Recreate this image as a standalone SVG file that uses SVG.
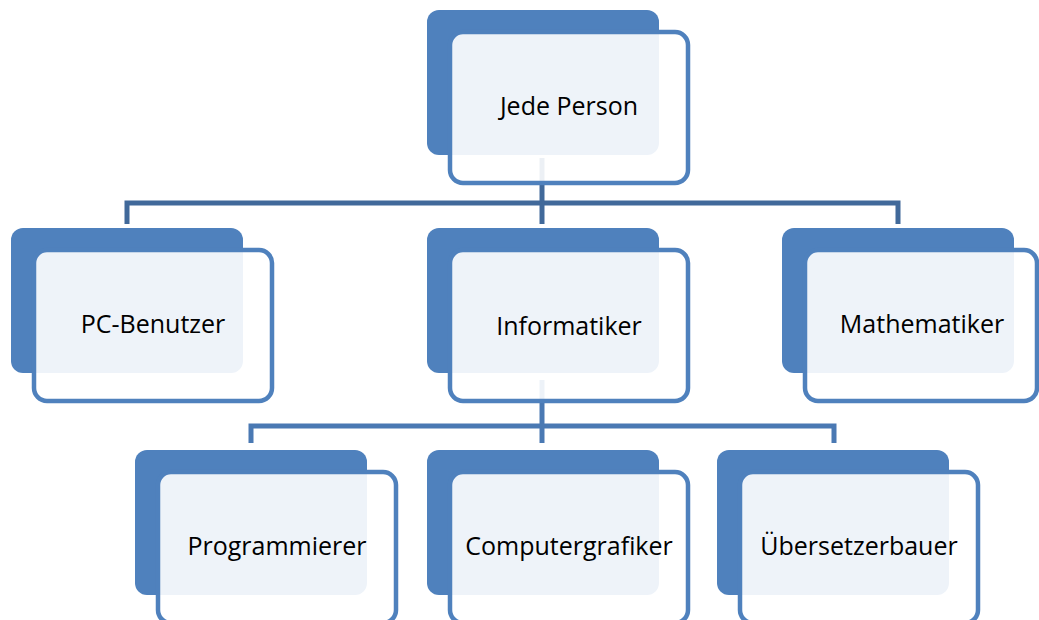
<svg xmlns="http://www.w3.org/2000/svg" width="1039" height="620" viewBox="0 0 1039 620">
  <style>
    .back { fill: #4f81bd; }
    .front { fill: #ffffff; fill-opacity: 0.9; stroke: #4f81bd; stroke-width: 4.5; }
    .label { font-family: "Open Sans", "Noto Sans", "Liberation Sans", sans-serif; font-size: 25px; fill: #000000; text-anchor: middle; }
    .link1 { fill: none; stroke: #41699a; stroke-width: 5; }
    .link2 { fill: none; stroke: #4a79b3; stroke-width: 5; }
  </style>
  <rect width="1039" height="620" fill="#ffffff"/>

  <!-- connectors sit underneath the boxes -->
  <g id="connectors">
    <path class="link1" d="M127,224 V203 H898 V224"/>
    <path class="link1" d="M542,158 V224"/>
    <path class="link2" d="M251,443 V426 H834 V443"/>
    <path class="link2" d="M542,380 V443"/>
  </g>

  <g id="jede-person">
    <rect class="back" x="427" y="10" width="232" height="145" rx="12"/>
    <rect class="front" x="450" y="32" width="238" height="151" rx="13"/>
    <text class="label" x="569" y="115">Jede Person</text>
  </g>

  <g id="pc-benutzer">
    <rect class="back" x="11" y="228" width="232" height="145" rx="12"/>
    <rect class="front" x="34" y="250" width="238" height="151" rx="13"/>
    <text class="label" x="153" y="333">PC-Benutzer</text>
  </g>

  <g id="informatiker">
    <rect class="back" x="427" y="228" width="232" height="145" rx="12"/>
    <rect class="front" x="450" y="250" width="238" height="151" rx="13"/>
    <text class="label" x="569" y="335">Informatiker</text>
  </g>

  <g id="mathematiker">
    <rect class="back" x="782" y="228" width="232" height="145" rx="12"/>
    <rect class="front" x="805" y="250" width="232" height="151" rx="13"/>
    <text class="label" x="922" y="333">Mathematiker</text>
  </g>

  <g id="programmierer">
    <rect class="back" x="135" y="450" width="232" height="145" rx="12"/>
    <rect class="front" x="158" y="472" width="238" height="151" rx="13"/>
    <text class="label" x="277" y="555">Programmierer</text>
  </g>

  <g id="computergrafiker">
    <rect class="back" x="427" y="450" width="232" height="145" rx="12"/>
    <rect class="front" x="450" y="472" width="238" height="151" rx="13"/>
    <text class="label" x="569" y="555">Computergrafiker</text>
  </g>

  <g id="uebersetzerbauer">
    <rect class="back" x="717" y="450" width="232" height="145" rx="12"/>
    <rect class="front" x="740" y="472" width="238" height="151" rx="13"/>
    <text class="label" x="859" y="555">Übersetzerbauer</text>
  </g>
</svg>
